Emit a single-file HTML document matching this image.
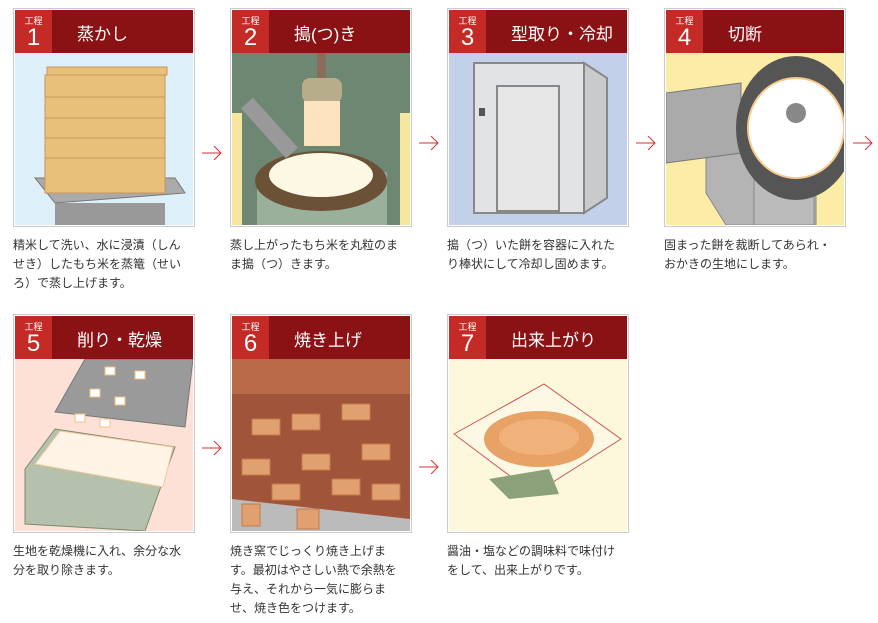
<!DOCTYPE html>
<html><head><meta charset="utf-8"><style>
body{margin:0;width:878px;height:623px;background:#fff;position:relative;overflow:hidden;font-family:"Liberation Sans","Noto Sans CJK JP",sans-serif}
.card{position:absolute;width:180px;height:217px;border:1px solid #ccc;}
.hd{position:absolute;left:1px;top:1px;width:178px;height:43px;background:#8a1214}
.bd{position:absolute;left:1px;top:1px;width:37px;height:43px;background:#c52b26;color:#fff;text-align:center}
.bd .k{font-size:9px;line-height:10px;margin-top:6px}
.bd .n{font-size:24px;line-height:23px}
.tt{position:absolute;left:63px;top:11px;color:#fff;font-size:17px;font-weight:normal}
.img{position:absolute;left:1px;top:44px;width:178px;height:172px;overflow:hidden}
.tx{position:absolute;width:190px;font-size:12px;line-height:19px;color:#333}
.ar{position:absolute;width:20px;height:14px}
</style></head><body>

<div class="card" style="left:13px;top:8px"><div class="img" style="background:#ddf0fa"><svg width="178" height="172">
<rect x="40" y="150" width="110" height="30" fill="#999"/><polygon points="20,125 160,125 170,140 40,150" fill="#aaa" stroke="#777"/>
<g fill="#e8c07a" stroke="#c9965a"><rect x="30" y="100" width="120" height="40"/><rect x="30" y="80" width="120" height="25"/><rect x="30" y="60" width="120" height="25"/><rect x="30" y="40" width="120" height="25"/><rect x="30" y="22" width="120" height="22"/><rect x="32" y="14" width="120" height="8"/></g>
</svg></div><div class="hd"></div><div class="bd"><div class="k">工程</div><div class="n">1</div></div><div class="tt">蒸かし</div></div>
<div class="tx" style="left:13px;top:236px">精米して洗い、水に浸漬（しん<br>せき）したもち米を蒸篭（せい<br>ろ）で蒸し上げます。</div>

<div class="card" style="left:230px;top:8px"><div class="img" style="background:#6e8772"><svg width="178" height="172">
<rect x="0" y="60" width="10" height="112" fill="#f6e6a0"/><rect x="168" y="60" width="10" height="112" fill="#f6e6a0"/>
<path d="M25,172 L25,120 Q89,90 155,120 L155,172Z" fill="#9bb09a"/>
<ellipse cx="89" cy="128" rx="66" ry="30" fill="#6b5236"/><ellipse cx="89" cy="122" rx="52" ry="22" fill="#fdf8e4"/>
<rect x="85" y="0" width="9" height="30" fill="#8a6c5a"/><rect x="70" y="25" width="40" height="25" fill="#b8ad8a" rx="8"/><rect x="72" y="48" width="36" height="45" fill="#fde2bf"/>
<path d="M15,50 L60,100" stroke="#999" stroke-width="16"/></svg></div><div class="hd"></div><div class="bd"><div class="k">工程</div><div class="n">2</div></div><div class="tt">搗(つ)き</div></div>
<div class="tx" style="left:230px;top:236px">蒸し上がったもち米を丸粒のま<br>ま搗（つ）きます。</div>

<div class="card" style="left:447px;top:8px"><div class="img" style="background:#c2d0e9"><svg width="178" height="172">
<rect x="25" y="10" width="110" height="150" fill="#e2e3e5" stroke="#888" stroke-width="2"/><polygon points="135,10 158,25 158,145 135,160" fill="#c9cacc" stroke="#888" stroke-width="2"/>
<rect x="48" y="33" width="62" height="125" fill="#e6e6e6" stroke="#888" stroke-width="2"/><rect x="30" y="55" width="6" height="8" fill="#555"/></svg></div><div class="hd"></div><div class="bd"><div class="k">工程</div><div class="n">3</div></div><div class="tt">型取り・冷却</div></div>
<div class="tx" style="left:447px;top:236px">搗（つ）いた餅を容器に入れた<br>り棒状にして冷却し固めます。</div>

<div class="card" style="left:664px;top:8px"><div class="img" style="background:#fdeca6"><svg width="178" height="172">
<polygon points="40,95 150,95 150,172 60,172 40,140" fill="#b4b4b4" stroke="#888"/><rect x="88" y="105" width="60" height="67" fill="#bbb" stroke="#888"/>
<polygon points="0,40 75,30 75,100 0,110" fill="#aaa" stroke="#777"/>
<ellipse cx="130" cy="75" rx="60" ry="72" fill="#555"/><ellipse cx="130" cy="75" rx="48" ry="50" fill="#fff" stroke="#f7c98a" stroke-width="2"/><circle cx="130" cy="60" r="10" fill="#888"/></svg></div><div class="hd"></div><div class="bd"><div class="k">工程</div><div class="n">4</div></div><div class="tt">切断</div></div>
<div class="tx" style="left:664px;top:236px">固まった餅を裁断してあられ・<br>おかきの生地にします。</div>

<div class="card" style="left:13px;top:314px"><div class="img" style="background:#fde0d6"><svg width="178" height="172">
<polygon points="70,0 178,0 170,68 40,53" fill="#9a9a9a" stroke="#777"/>
<polygon points="10,110 40,70 160,88 130,172 10,165" fill="#b5c1ac" stroke="#7a8a70"/><polygon points="20,105 45,72 158,88 148,128" fill="#fff4e6" stroke="#f2c89a"/>
<g fill="#fff" stroke="#f0c080"><rect x="90" y="8" width="10" height="8"/><rect x="120" y="12" width="10" height="8"/><rect x="75" y="30" width="10" height="8"/><rect x="100" y="38" width="10" height="8"/><rect x="60" y="55" width="10" height="8"/><rect x="85" y="60" width="10" height="8"/></g></svg></div><div class="hd"></div><div class="bd"><div class="k">工程</div><div class="n">5</div></div><div class="tt">削り・乾燥</div></div>
<div class="tx" style="left:13px;top:542px">生地を乾燥機に入れ、余分な水<br>分を取り除きます。</div>

<div class="card" style="left:230px;top:314px"><div class="img" style="background:#a0543a"><svg width="178" height="172">
<rect x="0" y="0" width="178" height="35" fill="#b86a48"/><polygon points="0,140 178,160 178,172 0,172" fill="#bbb"/>
<g fill="#e0a070" stroke="#c47a4a"><rect x="20" y="60" width="28" height="16"/><rect x="60" y="55" width="28" height="16"/><rect x="110" y="45" width="28" height="16"/><rect x="10" y="100" width="28" height="16"/><rect x="70" y="95" width="28" height="16"/><rect x="130" y="85" width="28" height="16"/><rect x="40" y="125" width="28" height="16"/><rect x="100" y="120" width="28" height="16"/><rect x="140" y="125" width="28" height="16"/><rect x="10" y="145" width="18" height="22"/><rect x="65" y="150" width="22" height="20"/></g></svg></div><div class="hd"></div><div class="bd"><div class="k">工程</div><div class="n">6</div></div><div class="tt">焼き上げ</div></div>
<div class="tx" style="left:230px;top:542px">焼き窯でじっくり焼き上げま<br>す。最初はやさしい熱で余熱を<br>与え、それから一気に膨らま<br>せ、焼き色をつけます。</div>

<div class="card" style="left:447px;top:314px"><div class="img" style="background:#fdf8dc"><svg width="178" height="172">
<polygon points="5,75 95,25 172,80 85,135" fill="#fdf8e4" stroke="#c55" stroke-width="1"/><polygon points="40,120 60,140 110,135 100,110" fill="#8aa17a"/>
<ellipse cx="90" cy="80" rx="55" ry="28" fill="#e8a266"/><ellipse cx="90" cy="78" rx="40" ry="18" fill="#f0b27a"/></svg></div><div class="hd"></div><div class="bd"><div class="k">工程</div><div class="n">7</div></div><div class="tt">出来上がり</div></div>
<div class="tx" style="left:447px;top:542px">醤油・塩などの調味料で味付け<br>をして、出来上がりです。</div>

<svg class="ar" style="left:202px;top:146px" viewBox="0 0 20 14"><path d="M0,7H19M12,0L19,7L12,14" fill="none" stroke="#d03030" stroke-width="1"/></svg>
<svg class="ar" style="left:419px;top:136px" viewBox="0 0 20 14"><path d="M0,7H19M12,0L19,7L12,14" fill="none" stroke="#d03030" stroke-width="1"/></svg>
<svg class="ar" style="left:636px;top:136px" viewBox="0 0 20 14"><path d="M0,7H19M12,0L19,7L12,14" fill="none" stroke="#d03030" stroke-width="1"/></svg>
<svg class="ar" style="left:853px;top:136px" viewBox="0 0 20 14"><path d="M0,7H19M12,0L19,7L12,14" fill="none" stroke="#d03030" stroke-width="1"/></svg>
<svg class="ar" style="left:202px;top:441px" viewBox="0 0 20 14"><path d="M0,7H19M12,0L19,7L12,14" fill="none" stroke="#d03030" stroke-width="1"/></svg>
<svg class="ar" style="left:419px;top:460px" viewBox="0 0 20 14"><path d="M0,7H19M12,0L19,7L12,14" fill="none" stroke="#d03030" stroke-width="1"/></svg>
</body></html>
